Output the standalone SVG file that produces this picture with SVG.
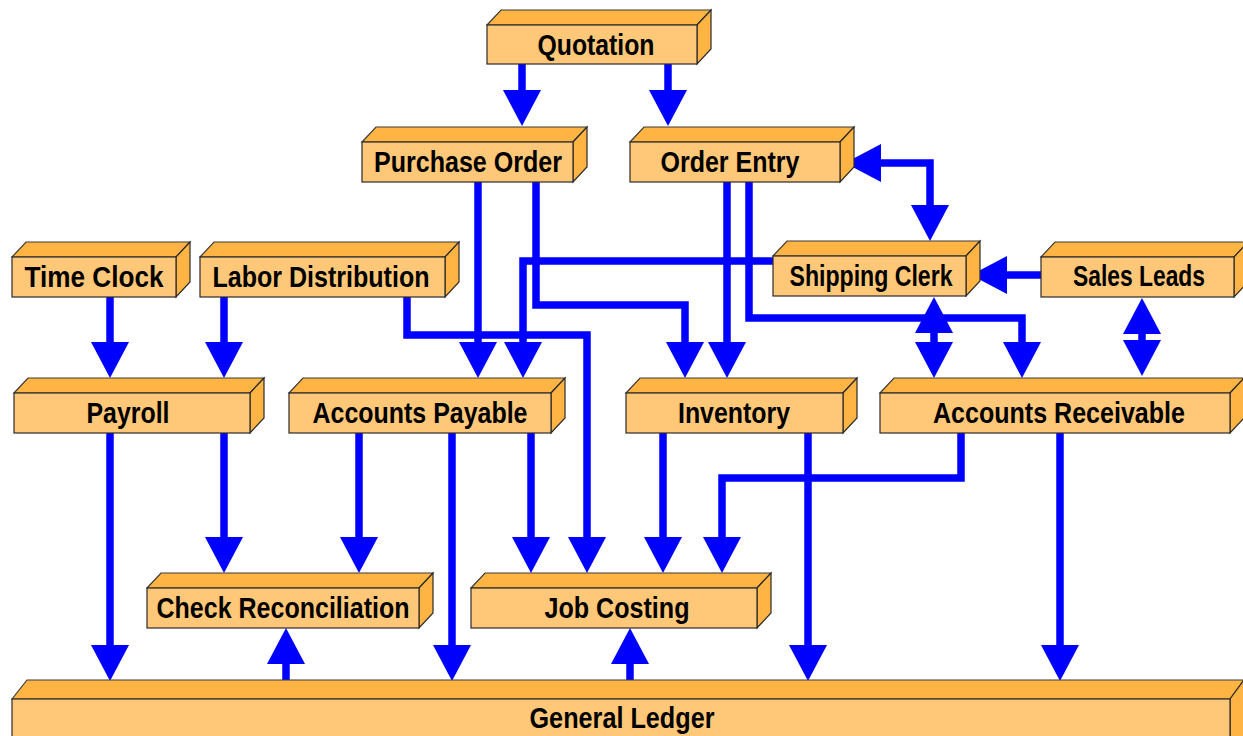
<svg xmlns="http://www.w3.org/2000/svg" width="1243" height="736" viewBox="0 0 1243 736">
<style>
.front{fill:#FFC878;stroke:#2a2a2a;stroke-width:1.2}
.top{fill:#FFB443;stroke:#3a3a3a;stroke-width:1.2}
.side{fill:#FFB443;stroke:#2a2a2a;stroke-width:1.2}
.lbl{font-family:"Liberation Sans",Arial,sans-serif;font-weight:bold;font-size:29px;fill:#000;text-anchor:middle}
.c{fill:none;stroke:#0000FF;stroke-width:7.5}
.a{marker-end:url(#ah)}
.aa{marker-start:url(#ah);marker-end:url(#ah)}
</style>
<defs>
<marker id="ah" markerUnits="userSpaceOnUse" markerWidth="36" markerHeight="38" viewBox="0 0 36 38" refX="2" refY="19" orient="auto-start-reverse">
<path d="M0,0 L36,19 L0,38 Z" fill="#0000FF"/>
</marker>
</defs>
<rect width="1243" height="736" fill="#fff"/>

<g id="connectors">
<path class="c a" d="M522,64 V92"/>
<path class="c a" d="M668,64 V92"/>
<path class="c aa" d="M879,163 H930 V207"/>
<path class="c a" d="M478,182 V344"/>
<path class="c a" d="M536,182 V305 H685 V344"/>
<path class="c a" d="M773,261 H523 V344"/>
<path class="c a" d="M727,182 V344"/>
<path class="c a" d="M749,182 V318 H1022 V344"/>
<path class="c aa" d="M934,331 V344"/>
<path class="c aa" d="M1142,332 V342"/>
<path class="c a" d="M1041,275 H1005"/>
<path class="c a" d="M110,297 V344"/>
<path class="c a" d="M224,297 V344"/>
<path class="c a" d="M407,297 V335 H587 V539"/>
<path class="c a" d="M110,433 V647"/>
<path class="c a" d="M224,433 V539"/>
<path class="c a" d="M359,433 V539"/>
<path class="c a" d="M452,433 V647"/>
<path class="c a" d="M531,433 V539"/>
<path class="c a" d="M663,433 V539"/>
<path class="c a" d="M808,433 V647"/>
<path class="c a" d="M961,433 V478 H722 V539"/>
<path class="c a" d="M1060,433 V647"/>
<path class="c a" d="M286,681 V662"/>
<path class="c a" d="M630,681 V662"/>
</g>

<g id="quotation">
<polygon class="top" points="487,25 501,10 711,10 697,25"/>
<polygon class="side" points="697,25 711,10 711,49 697,64"/>
<rect class="front" x="487" y="25" width="210" height="39"/>
<text class="lbl" x="596" y="55" textLength="117" lengthAdjust="spacingAndGlyphs">Quotation</text>
</g>

<g id="purchase-order">
<polygon class="top" points="362,142 376,127 587,127 573,142"/>
<polygon class="side" points="573,142 587,127 587,167 573,182"/>
<rect class="front" x="362" y="142" width="211" height="40"/>
<text class="lbl" x="468" y="172" textLength="188" lengthAdjust="spacingAndGlyphs">Purchase Order</text>
</g>

<g id="order-entry">
<polygon class="top" points="630,142 644,127 854,127 840,142"/>
<polygon class="side" points="840,142 854,127 854,167 840,182"/>
<rect class="front" x="630" y="142" width="210" height="40"/>
<text class="lbl" x="730" y="172" textLength="139" lengthAdjust="spacingAndGlyphs">Order Entry</text>
</g>

<g id="time-clock">
<polygon class="top" points="12,257 26,242 190,242 176,257"/>
<polygon class="side" points="176,257 190,242 190,282 176,297"/>
<rect class="front" x="12" y="257" width="164" height="40"/>
<text class="lbl" x="94" y="287" textLength="139" lengthAdjust="spacingAndGlyphs">Time Clock</text>
</g>

<g id="labor-distribution">
<polygon class="top" points="200,257 214,242 459,242 445,257"/>
<polygon class="side" points="445,257 459,242 459,282 445,297"/>
<rect class="front" x="200" y="257" width="245" height="40"/>
<text class="lbl" x="321" y="287" textLength="217" lengthAdjust="spacingAndGlyphs">Labor Distribution</text>
</g>

<g id="shipping-clerk">
<polygon class="top" points="773,256 787,241 980,241 966,256"/>
<polygon class="side" points="966,256 980,241 980,281 966,296"/>
<rect class="front" x="773" y="256" width="193" height="40"/>
<text class="lbl" x="871" y="286" textLength="163" lengthAdjust="spacingAndGlyphs">Shipping Clerk</text>
</g>

<g id="sales-leads">
<polygon class="top" points="1041,257 1055,242 1248,242 1234,257"/>
<polygon class="side" points="1234,257 1248,242 1248,282 1234,297"/>
<rect class="front" x="1041" y="257" width="193" height="40"/>
<text class="lbl" x="1139" y="286" textLength="132" lengthAdjust="spacingAndGlyphs">Sales Leads</text>
</g>

<g id="payroll">
<polygon class="top" points="14,393 28,378 264,378 250,393"/>
<polygon class="side" points="250,393 264,378 264,418 250,433"/>
<rect class="front" x="14" y="393" width="236" height="40"/>
<text class="lbl" x="128" y="423" textLength="83" lengthAdjust="spacingAndGlyphs">Payroll</text>
</g>

<g id="accounts-payable">
<polygon class="top" points="289,393 303,378 565,378 551,393"/>
<polygon class="side" points="551,393 565,378 565,418 551,433"/>
<rect class="front" x="289" y="393" width="262" height="40"/>
<text class="lbl" x="420" y="423" textLength="215" lengthAdjust="spacingAndGlyphs">Accounts Payable</text>
</g>

<g id="inventory">
<polygon class="top" points="626,393 640,378 857,378 843,393"/>
<polygon class="side" points="843,393 857,378 857,418 843,433"/>
<rect class="front" x="626" y="393" width="217" height="40"/>
<text class="lbl" x="734" y="423" textLength="112" lengthAdjust="spacingAndGlyphs">Inventory</text>
</g>

<g id="accounts-receivable">
<polygon class="top" points="880,393 894,378 1244,378 1230,393"/>
<polygon class="side" points="1230,393 1244,378 1244,418 1230,433"/>
<rect class="front" x="880" y="393" width="350" height="40"/>
<text class="lbl" x="1059" y="423" textLength="252" lengthAdjust="spacingAndGlyphs">Accounts Receivable</text>
</g>

<g id="check-reconciliation">
<polygon class="top" points="147,588 161,573 433,573 419,588"/>
<polygon class="side" points="419,588 433,573 433,613 419,628"/>
<rect class="front" x="147" y="588" width="272" height="40"/>
<text class="lbl" x="283" y="618" textLength="253" lengthAdjust="spacingAndGlyphs">Check Reconciliation</text>
</g>

<g id="job-costing">
<polygon class="top" points="471,588 485,573 771,573 757,588"/>
<polygon class="side" points="757,588 771,573 771,613 757,628"/>
<rect class="front" x="471" y="588" width="286" height="40"/>
<text class="lbl" x="617" y="618" textLength="145" lengthAdjust="spacingAndGlyphs">Job Costing</text>
</g>

<g id="general-ledger">
<polygon class="top" points="12,699 27,680 1244,680 1230,699"/>
<polygon class="side" points="1230,699 1244,680 1244,740 1230,740"/>
<rect class="front" x="12" y="699" width="1218" height="45"/>
<text class="lbl" x="622" y="728" textLength="185" lengthAdjust="spacingAndGlyphs">General Ledger</text>
</g>
</svg>
